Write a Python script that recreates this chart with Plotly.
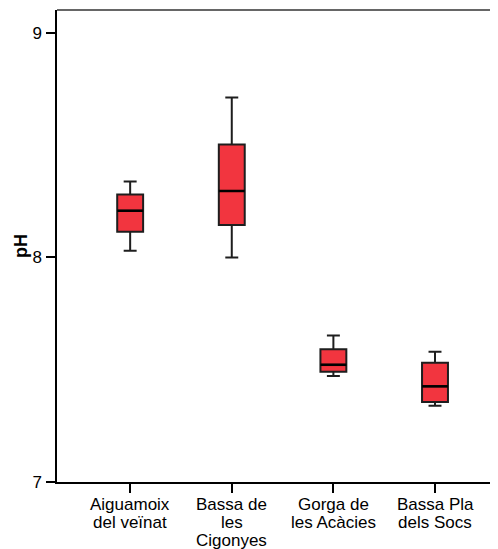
import plotly.graph_objects as go

categories = ["Aiguamoix<br>del veïnat", "Bassa de<br>les<br>Cigonyes", "Gorga de<br>les Acàcies", "Bassa Pla<br>dels Socs"]
lower_whisker = [8.03, 8.00, 7.472, 7.34]
q1_values = [8.115, 8.145, 7.491, 7.356]
medians = [8.208, 8.296, 7.522, 7.426]
q3_values = [8.280, 8.503, 7.591, 7.531]
upper_whisker = [8.338, 8.712, 7.652, 7.580]
y_ticks = [7, 8, 9]

positions = list(range(len(categories)))
BOX_W = 0.255
FILL = "#F2353F"

fig = go.Figure()
fig.add_trace(go.Box(
    x=positions,
    q1=q1_values, median=medians, q3=q3_values,
    lowerfence=lower_whisker, upperfence=upper_whisker,
    width=BOX_W, whiskerwidth=0.5,
    fillcolor=FILL, line=dict(color="#1e1e1e", width=2),
    boxpoints=False, hoverinfo="skip", showlegend=False,
))

# thicker median lines
mx, my = [], []
for p, m in zip(positions, medians):
    mx += [p - BOX_W / 2, p + BOX_W / 2, None]
    my += [m, m, None]
fig.add_trace(go.Scatter(x=mx, y=my, mode="lines",
                         line=dict(color="black", width=2.5),
                         hoverinfo="skip", showlegend=False))

# category labels, one annotation per line for tight line spacing
for p, cat in zip(positions, categories):
    for j, line in enumerate(cat.split("<br>")):
        fig.add_annotation(x=p, xref="x", y=0, yref="paper",
                           yanchor="top", xanchor="center",
                           yshift=-11 - j * 17.8, text=line, showarrow=False,
                           font=dict(family="Liberation Sans, Arial", size=17, color="black"))

fig.add_shape(type="line", xref="paper", yref="paper", x0=0, x1=1, y0=1, y1=1,
              line=dict(color="#666666", width=2))

# page body has an 8px margin, so the figure is offset by 8px
fig.update_layout(
    width=490, height=560,
    margin=dict(l=49, r=0, t=2, b=86, autoexpand=False),
    plot_bgcolor="white", paper_bgcolor="white",
    font=dict(family="Liberation Sans, Arial", size=17, color="black"),
    xaxis=dict(range=[-0.72, 3.62], tickvals=positions, ticktext=[""] * len(positions),
               showgrid=False, zeroline=False, showline=True, linecolor="black", linewidth=1.5,
               ticks="outside", ticklen=9, tickcolor="black", tickwidth=1.5),
    yaxis=dict(range=[7, 9.102], tickvals=y_ticks, showgrid=False, zeroline=False,
               showline=True, linecolor="black", linewidth=1.5,
               ticks="outside", ticklen=9, tickcolor="black", tickwidth=1.5,
               ticklabelstandoff=1,
               tickfont=dict(size=17),
               title=dict(text="<b>pH</b>", font=dict(size=18), standoff=0)),
)

fig.write_html("out.html")
